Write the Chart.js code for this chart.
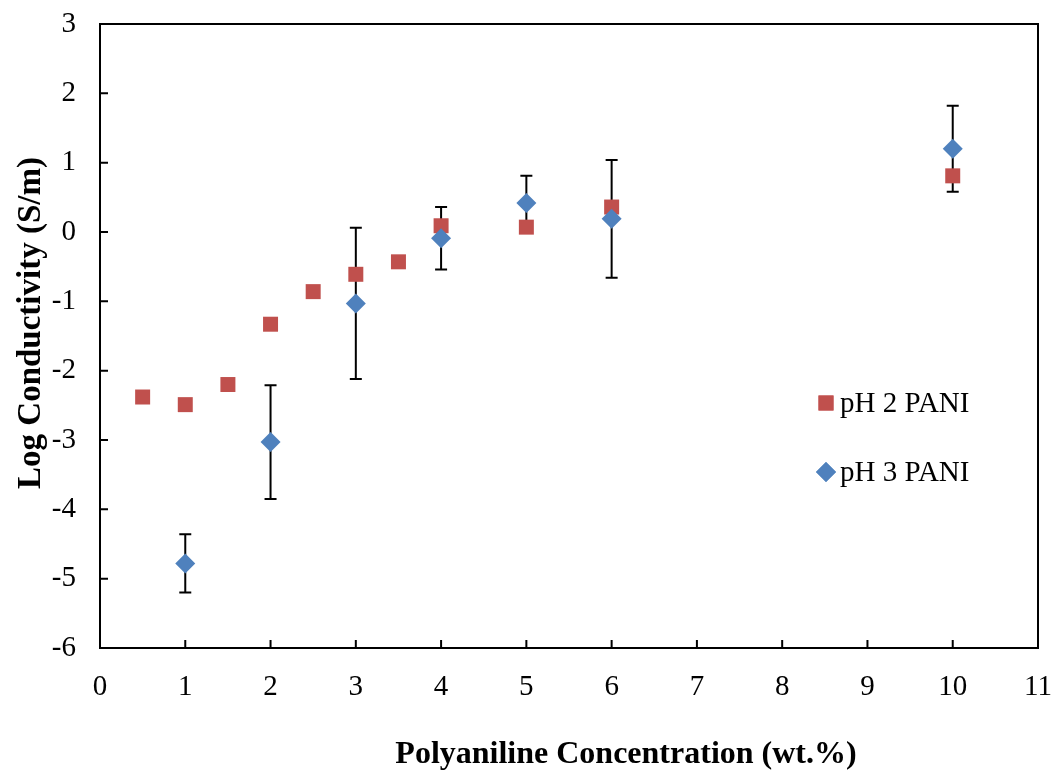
<!DOCTYPE html>
<html>
<head>
<meta charset="utf-8">
<script src="https://cdn.jsdelivr.net/npm/chart.js@4.4.1/dist/chart.umd.min.js"></script>
<style>
  html, body { margin: 0; padding: 0; background: #fff; }
  #wrap { width: 1055px; height: 775px; }
</style>
</head>
<body>
<div id="wrap"><canvas id="mychart"></canvas></div>
<script>
// pH 2 PANI (red squares)
const ph2X = [0.5, 1, 1.5, 2, 2.5, 3, 3.5, 4, 5, 6, 10]
const ph2Y = [-2.38, -2.49, -2.20, -1.33, -0.86, -0.61, -0.43, 0.09, 0.07, 0.36, 0.81]

// pH 3 PANI (blue diamonds) with error bars
const ph3X = [1, 2, 3, 4, 5, 6, 10]
const ph3Y = [-4.78, -3.03, -1.03, -0.09, 0.42, 0.19, 1.20]
const ph3Err = [0.42, 0.82, 1.09, 0.45, 0.39, 0.85, 0.62]

const xTicks = [0, 1, 2, 3, 4, 5, 6, 7, 8, 9, 10, 11]
const yTicks = [-6, -5, -4, -3, -2, -1, 0, 1, 2, 3]

const xTitle = 'Polyaniline Concentration (wt.%)'
const yTitle = 'Log Conductivity (S/m)'

const serif = "'Liberation Serif', 'Times New Roman', serif"

// error bars drawn under the markers
const errorBars = {
    id: 'errorBars',
    beforeDatasetsDraw(chart) {
        const ctx = chart.ctx
        const xs = chart.scales.x
        const ys = chart.scales.y
        ctx.save()
        ctx.strokeStyle = '#000'
        ctx.lineWidth = 2
        for (let i = 0; i < ph3X.length; i++) {
            const px = xs.getPixelForValue(ph3X[i])
            const top = ys.getPixelForValue(ph3Y[i] + ph3Err[i])
            const bot = ys.getPixelForValue(ph3Y[i] - ph3Err[i])
            ctx.beginPath()
            ctx.moveTo(px, top); ctx.lineTo(px, bot)
            ctx.moveTo(px - 6, top); ctx.lineTo(px + 6, top)
            ctx.moveTo(px - 6, bot); ctx.lineTo(px + 6, bot)
            ctx.stroke()
        }
        ctx.restore()
    }
}

// box around the plot, inward ticks, axis titles, legend
const frame = {
    id: 'frame',
    afterDraw(chart) {
        const ctx = chart.ctx
        const a = chart.chartArea
        const xs = chart.scales.x
        const ys = chart.scales.y
        ctx.save()
        ctx.strokeStyle = '#000'
        ctx.lineWidth = 2
        ctx.strokeRect(a.left, a.top, a.right - a.left, a.bottom - a.top)
        ctx.beginPath()
        xTicks.forEach(function (v) {
            const px = xs.getPixelForValue(v)
            ctx.moveTo(px, a.bottom); ctx.lineTo(px, a.bottom - 8)
        })
        yTicks.forEach(function (v) {
            const py = ys.getPixelForValue(v)
            ctx.moveTo(a.left, py); ctx.lineTo(a.left + 8, py)
        })
        ctx.stroke()

        // axis titles (the x one sits right of centre in the original)
        ctx.fillStyle = '#000'
        ctx.textAlign = 'center'
        ctx.textBaseline = 'middle'
        ctx.font = 'bold 32px ' + serif
        ctx.fillText(xTitle, 626, 755)
        ctx.save()
        ctx.translate(31, 323)
        ctx.rotate(-Math.PI / 2)
        ctx.font = 'bold 33px ' + serif
        ctx.fillText(yTitle, 0, 0)
        ctx.restore()

        const items = [
            { label: 'pH 2 PANI', style: 'rect', color: '#C0504D', r: 10.6, y: 403 },
            { label: 'pH 3 PANI', style: 'rectRot', color: '#4F81BD', r: 10, y: 472 }
        ]
        ctx.font = '29px ' + serif
        ctx.textAlign = 'left'
        items.forEach(function (it) {
            ctx.fillStyle = it.color
            Chart.helpers.drawPoint(ctx, { pointStyle: it.style, radius: it.r, borderWidth: 0 }, 826, it.y)
            ctx.fill()
            ctx.fillStyle = '#000'
            ctx.fillText(it.label, 840, it.y + 1)
        })
        ctx.restore()
    }
}

new Chart(document.getElementById('mychart'), {
    type: 'scatter',
    data: {
        datasets: [
            {
                label: 'pH 2 PANI',
                data: ph2X.map(function (x, i) { return { x: x, y: ph2Y[i] } }),
                pointStyle: 'rect',
                pointRadius: 10.6,
                pointHoverRadius: 10.6,
                backgroundColor: '#C0504D',
                borderColor: '#C0504D',
                borderWidth: 0,
                order: 1
            },
            {
                label: 'pH 3 PANI',
                data: ph3X.map(function (x, i) { return { x: x, y: ph3Y[i] } }),
                pointStyle: 'rectRot',
                pointRadius: 10,
                pointHoverRadius: 10,
                backgroundColor: '#4F81BD',
                borderColor: '#4F81BD',
                borderWidth: 0,
                order: 0
            }
        ]
    },
    options: {
        responsive: true,
        maintainAspectRatio: false,
        animation: false,
        layout: { padding: { top: 24, right: 17, left: 12, bottom: 0 } },
        plugins: {
            legend: { display: false },
            tooltip: { enabled: false }
        },
        scales: {
            x: {
                type: 'linear',
                min: 0,
                max: 11,
                afterBuildTicks: function (scale) { scale.ticks = xTicks.map(function (v) { return { value: v } }) },
                afterFit: function (scale) {
                    scale.height = 127
                    scale.paddingLeft = 0
                    scale.paddingRight = 0
                },
                grid: { display: false, drawTicks: false },
                border: { display: true, color: '#000', width: 2 },
                ticks: { color: '#000', padding: 22, font: { family: serif, size: 29 }, maxRotation: 0 },
                title: { display: false }
            },
            y: {
                type: 'linear',
                min: -6,
                max: 3,
                afterBuildTicks: function (scale) { scale.ticks = yTicks.map(function (v) { return { value: v } }) },
                afterFit: function (scale) {
                    scale.width = 88
                    scale.paddingTop = 0
                    scale.paddingBottom = 0
                },
                grid: { display: false, drawTicks: false },
                border: { display: true, color: '#000', width: 2 },
                ticks: { color: '#000', padding: 24, font: { family: serif, size: 29 } },
                title: { display: false }
            }
        }
    },
    plugins: [errorBars, frame]
})
</script>
</body>
</html>
